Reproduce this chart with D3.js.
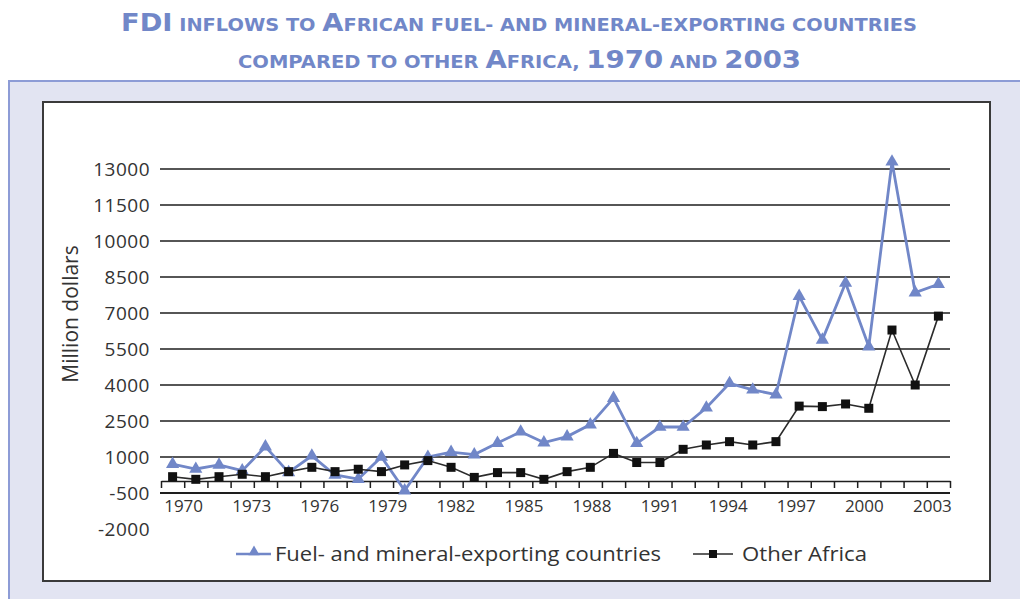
<!DOCTYPE html>
<html>
<head>
<meta charset="utf-8">
<script src="https://cdn.jsdelivr.net/npm/d3@7"></script>
<style>
  body { margin: 0; background: #fff; }
  svg { display: block; }
</style>
</head>
<body>
<svg id="chart" width="1020" height="599"></svg>
<script>
// Data (million dollars)
const years = [1970, 1971, 1972, 1973, 1974, 1975, 1976, 1977, 1978, 1979,
               1980, 1981, 1982, 1983, 1984, 1985, 1986, 1987, 1988, 1989,
               1990, 1991, 1992, 1993, 1994, 1995, 1996, 1997, 1998, 1999,
               2000, 2001, 2002, 2003];
const fuelMineral = [700, 500, 670, 430, 1430, 360, 1050, 250, 80, 1000,
                     -400, 1000, 1200, 1100, 1580, 2050, 1600, 1850, 2350, 3450,
                     1570, 2250, 2250, 3050, 4070, 3800, 3600, 7700, 5880, 8250,
                     5600, 13300, 7850, 8200];
const otherAfrica = [180, 70, 180, 280, 180, 390, 570, 390, 490, 390,
                     670, 850, 570, 150, 350, 350, 70, 390, 570, 1150,
                     770, 770, 1320, 1500, 1640, 1500, 1640, 3120, 3100, 3210,
                     3030, 6290, 4000, 6870];
const yTicks = [13000, 11500, 10000, 8500, 7000, 5500, 4000, 2500, 1000, -500, -2000];
const gridValues = [13000, 11500, 10000, 8500, 7000, 5500, 4000, 2500, 1000, -500];
const xLabelYears = [1970, 1973, 1976, 1979, 1982, 1985, 1988, 1991, 1994, 1997, 2000, 2003];
const seriesNames = ["Fuel- and mineral-exporting countries", "Other Africa"];
const titleLines = ["FDI inflows to African fuel- and mineral-exporting countries",
                    "compared to other Africa, 1970 and 2003"];
const yTitle = "Million dollars";

const blue = "#7187c8";
const svg = d3.select("#chart");

// Title, faked small caps
function smallCaps(textSel, str, big, small) {
    const runs = str.match(/[A-Z0-9]+|[^A-Z0-9]+/g);
    runs.forEach(r => {
        const isBig = /[A-Z0-9]/.test(r[0]);
        textSel.append("tspan")
            .attr("font-size", isBig ? big : small)
            .text(r.toUpperCase());
    });
}
const titleSpec = [{ x: 121, y: 31, len: 796 }, { x: 238, y: 68, len: 563 }];
titleLines.forEach((t, i) => {
    const txt = svg.append("text")
        .attr("x", titleSpec[i].x)
        .attr("y", titleSpec[i].y)
        .attr("fill", blue)
        .attr("font-family", "DejaVu Sans")
        .attr("font-weight", "bold")
        .attr("textLength", titleSpec[i].len)
        .attr("lengthAdjust", "spacingAndGlyphs");
    smallCaps(txt, t, 24, 17);
});

// Background panel and chart box
svg.append("rect")
    .attr("x", 8).attr("y", 80).attr("width", 1012).attr("height", 519)
    .attr("fill", "#e2e4f2");
svg.append("path")
    .attr("d", "M9,599V81H1020")
    .attr("fill", "none").attr("stroke", "#8d9cd6").attr("stroke-width", 2);
svg.append("rect")
    .attr("x", 43).attr("y", 102).attr("width", 947).attr("height", 479)
    .attr("fill", "#fff").attr("stroke", "#3a3a3a").attr("stroke-width", 2);

// Scales
const x = d3.scaleBand().domain(years).range([161, 950]);
const xEdge = d3.scaleLinear().domain([1970, 2004]).range([161, 950]);
const y = d3.scaleLinear().domain([-2000, 13000]).range([529, 169]);
const cx = yr => x(yr) + x.bandwidth() / 2;
// labels sit a little off the category centres in the original
const xLabel = d3.scaleLinear().domain([1970, 2003]).range([cx(1970) + 11, cx(2003) - 6]);

// Gridlines
svg.append("g")
    .selectAll("line")
    .data(gridValues)
    .join("line")
    .attr("x1", 160).attr("x2", 950)
    .attr("y1", d => y(d)).attr("y2", d => y(d))
    .attr("stroke", "#1e1e1e")
    .attr("stroke-width", d => d === -500 ? 2 : 1.6);

// Y tick labels
svg.append("g")
    .selectAll("text")
    .data(yTicks)
    .join("text")
    .attr("x", 150)
    .attr("y", d => y(d))
    .attr("dy", "0.36em")
    .attr("text-anchor", "end")
    .attr("font-family", "Open Sans")
    .attr("font-size", 19)
    .attr("letter-spacing", 0.5)
    .attr("fill", "#333")
    .text(d => d);

// Y title
svg.append("text")
    .attr("transform", "translate(78,314) rotate(-90)")
    .attr("text-anchor", "middle")
    .attr("font-family", "Open Sans")
    .attr("font-size", 21)
    .attr("fill", "#333")
    .text(yTitle);

// X axis at zero with ticks between categories
const xAxis = d3.axisBottom(xEdge)
    .tickValues(d3.range(1970, 2005))
    .tickFormat("")
    .tickSize(7)
    .tickSizeOuter(0);
const gx = svg.append("g")
    .attr("transform", `translate(0,${y(0)})`)
    .call(xAxis);
gx.select(".domain").attr("stroke", "#1e1e1e").attr("stroke-width", 1.6);
gx.selectAll(".tick line").attr("stroke", "#1e1e1e").attr("stroke-width", 1.5);

svg.append("g")
    .selectAll("text")
    .data(xLabelYears)
    .join("text")
    .attr("x", d => xLabel(d))
    .attr("y", 512)
    .attr("text-anchor", "middle")
    .attr("font-family", "Open Sans")
    .attr("font-size", 17)
    .attr("fill", "#333")
    .text(d => d);

// Series
const line = d3.line()
    .x((d, i) => cx(years[i]))
    .y(d => y(d));

svg.append("path")
    .datum(fuelMineral)
    .attr("d", line)
    .attr("fill", "none")
    .attr("stroke", blue)
    .attr("stroke-width", 2.8)
    .attr("stroke-linejoin", "miter");

svg.append("g")
    .selectAll("path")
    .data(fuelMineral)
    .join("path")
    .attr("transform", (d, i) => `translate(${cx(years[i])},${y(d)})`)
    .attr("d", d3.symbol(d3.symbolTriangle).size(75))
    .attr("fill", blue);

svg.append("path")
    .datum(otherAfrica)
    .attr("d", line)
    .attr("fill", "none")
    .attr("stroke", "#2b2b2b")
    .attr("stroke-width", 1.6);

svg.append("g")
    .selectAll("rect")
    .data(otherAfrica)
    .join("rect")
    .attr("x", (d, i) => cx(years[i]) - 4.5)
    .attr("y", d => y(d) - 4.5)
    .attr("width", 9).attr("height", 9)
    .attr("fill", "#111");

// Legend
const legendY = 554;
const lg = svg.append("g");
lg.append("line").attr("x1", 236).attr("x2", 271).attr("y1", legendY).attr("y2", legendY)
    .attr("stroke", blue).attr("stroke-width", 2.6);
lg.append("path").attr("transform", `translate(254,${legendY - 2})`)
    .attr("d", d3.symbol(d3.symbolTriangle).size(55)).attr("fill", blue);
lg.append("text").attr("x", 275).attr("y", legendY).attr("dy", "0.35em")
    .attr("font-family", "Open Sans").attr("font-size", 20).attr("fill", "#333")
    .attr("textLength", 386).attr("lengthAdjust", "spacingAndGlyphs")
    .text(seriesNames[0]);

lg.append("line").attr("x1", 693).attr("x2", 733).attr("y1", legendY).attr("y2", legendY)
    .attr("stroke", "#2b2b2b").attr("stroke-width", 1.6);
lg.append("rect").attr("x", 709).attr("y", legendY - 4).attr("width", 8).attr("height", 8)
    .attr("fill", "#111");
lg.append("text").attr("x", 742).attr("y", legendY).attr("dy", "0.35em")
    .attr("font-family", "Open Sans").attr("font-size", 20).attr("fill", "#333")
    .attr("textLength", 125).attr("lengthAdjust", "spacingAndGlyphs")
    .text(seriesNames[1]);
</script>
</body>
</html>
